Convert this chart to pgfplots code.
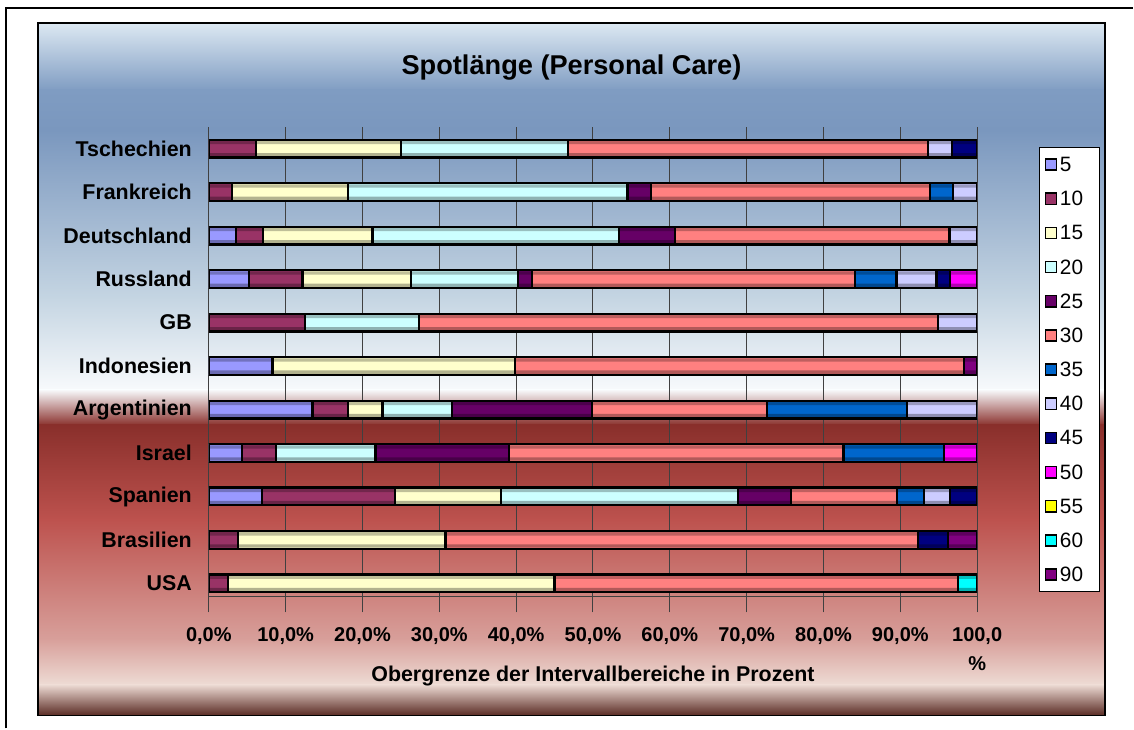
\documentclass[border=0pt]{standalone}
\usepackage{pgfplots}
\pgfplotsset{compat=1.18}
\usepackage{pgfplotstable}
\usepackage{fontspec}
\setmainfont{Liberation Sans}

% Excel series colours
\definecolor{c5}{HTML}{9999FF}
\definecolor{c10}{HTML}{993366}
\definecolor{c15}{HTML}{FFFFCC}
\definecolor{c20}{HTML}{CCFFFF}
\definecolor{c25}{HTML}{660066}
\definecolor{c30}{HTML}{FF8080}
\definecolor{c35}{HTML}{0066CC}
\definecolor{c40}{HTML}{CCCCFF}
\definecolor{c45}{HTML}{000080}
\definecolor{c50}{HTML}{FF00FF}
\definecolor{c55}{HTML}{FFFF00}
\definecolor{c60}{HTML}{00FFFF}
\definecolor{c90}{HTML}{800080}

% background stops
\definecolor{bgA}{HTML}{DCE8F2}
\definecolor{bgB}{HTML}{7F9CC2}
\definecolor{bgC}{HTML}{7A97BE}
\definecolor{bgD}{HTML}{C6D6E3}
\definecolor{bgE}{HTML}{F8FAFC}
\definecolor{bgF}{HTML}{892F2B}
\definecolor{bgG}{HTML}{BD524E}
\definecolor{bgH}{HTML}{D8A09B}
\definecolor{bgI}{HTML}{EEDCD5}
\definecolor{bgJ}{HTML}{5A2B24}

% share of each spot length per country, in percent (y: USA=0 ... Tschechien=10)
\pgfplotstableread{
y  s5   s10  s15  s20  s25  s30  s35  s40  s45  s50  s55  s60  s90
0  0    2.5  42.5 0    0    52.5 0    0    0    0    0    2.5  0
1  0    3.8  27.0 0    0    61.5 0    0    3.9  0    0    0    3.8
2  6.9  17.3 13.8 30.9 6.9  13.8 3.5  3.4  3.5  0    0    0    0
3  4.3  4.4  0    13.0 17.4 43.5 13.1 0    0    4.3  0    0    0
4  13.5 4.6  4.5  9.1  18.2 22.8 18.2 9.1  0    0    0    0    0
5  8.3  0    31.6 0    0    58.4 0    0    0    0    0    0    1.7
6  0    12.5 0    14.9 0    67.5 0    5.1  0    0    0    0    0
7  5.2  7.0  14.1 13.9 1.9  42.0 5.4  5.2  1.8  3.5  0    0    0
8  3.5  3.5  14.3 32.1 7.3  35.7 0    3.6  0    0    0    0    0
9  0    3.0  15.1 36.4 3.1  36.3 3.0  3.1  0    0    0    0    0
10 0    6.1  18.9 21.8 0    46.8 0    3.1  3.3  0    0    0    0
}\spots

\pgfplotsset{
  spotaxis/.style={
    at={(104.5pt,-298.5pt)}, anchor=south west,
    scale only axis, width=384.5pt, height=235pt,
    xmin=0, xmax=100, ymin=-0.3, ymax=10.5,
  },
}

\begin{document}
\begin{tikzpicture}
% background, in pixel units of the reference
\begin{scope}[x=0.5pt,y=-0.5pt]
\path (0,0) rectangle (1134,729);
\shade[top color=bgA,bottom color=bgB] (38,23) rectangle (1106,91);
\shade[top color=bgB,bottom color=bgC] (38,90) rectangle (1106,131);
\shade[top color=bgC,bottom color=bgD] (38,130) rectangle (1106,301);
\shade[top color=bgD,bottom color=bgE] (38,300) rectangle (1106,391);
\shade[top color=bgE,bottom color=bgF] (38,390) rectangle (1106,426);
\shade[top color=bgF,bottom color=bgG] (38,425) rectangle (1106,521);
\shade[top color=bgG,bottom color=bgH] (38,520) rectangle (1106,641);
\shade[top color=bgH,bottom color=bgI] (38,640) rectangle (1106,686);
\shade[top color=bgI,bottom color=bgJ] (38,685) rectangle (1106,716);
\end{scope}

\begin{axis}[
spotaxis,
xbar stacked, bar width=0.41,
ytick={0,...,10},
yticklabels={USA,Brasilien,Spanien,Israel,Argentinien,Indonesien,GB,Russland,Deutschland,Frankreich,Tschechien},
xtick={0,10,...,100},
xticklabels={{0,0\%},{10,0\%},{20,0\%},{30,0\%},{40,0\%},{50,0\%},{60,0\%},{70,0\%},{80,0\%},{90,0\%},{100,0\\\%}},
xticklabel style={align=center, font=\bfseries\fontsize{10}{14.5}\selectfont, yshift=-4pt},
yticklabel style={font=\bfseries\fontsize{10.7}{12}\selectfont, xshift=3pt},
axis lines*=left,
axis line style={black!75, line width=0.5pt},
xmajorgrids, grid style={black!75, line width=0.5pt},
tick align=outside, major tick length=8pt,
ytick style={draw=none},
xtick style={black!75, line width=0.5pt},
xlabel={Obergrenze der Intervallbereiche in Prozent},
xlabel style={font=\bfseries\fontsize{10.7}{12}\selectfont,
  at={(axis description cs:0.5,0)}, anchor=center, yshift=-40pt},
every axis plot/.append style={draw=black, line width=1.1pt},
legend image code/.code={\draw[#1, line width=0.8pt] (0pt,-2.8pt) rectangle (5.6pt,2.8pt);},
legend cell align=left,
legend style={at={(1.0806,0.957)}, anchor=north west, draw=black, line width=0.5pt,
  fill=white, font=\fontsize{10.4}{11}\selectfont, row sep=9.1pt,
  inner xsep=2.5pt, inner ysep=4.5pt,
  nodes={inner xsep=1.3pt, inner ysep=0.5pt, text width=16pt, text height=7pt, text depth=0pt}},
]
\addplot[fill=c5] table[x=s5,y=y]{\spots};
\addplot[fill=c10] table[x=s10,y=y]{\spots};
\addplot[fill=c15] table[x=s15,y=y]{\spots};
\addplot[fill=c20] table[x=s20,y=y]{\spots};
\addplot[fill=c25] table[x=s25,y=y]{\spots};
\addplot[fill=c30] table[x=s30,y=y]{\spots};
\addplot[fill=c35] table[x=s35,y=y]{\spots};
\addplot[fill=c40] table[x=s40,y=y]{\spots};
\addplot[fill=c45] table[x=s45,y=y]{\spots};
\addplot[fill=c50] table[x=s50,y=y]{\spots};
\addplot[fill=c55] table[x=s55,y=y]{\spots};
\addplot[fill=c60] table[x=s60,y=y]{\spots};
\addplot[fill=c90] table[x=s90,y=y]{\spots};
\legend{5,10,15,20,25,30,35,40,45,50,55,60,90}
\end{axis}

% darker bands along the top and bottom inside each bar (Excel's 3D look)
\begin{axis}[spotaxis, hide axis, xbar, bar width=0.075]
\addplot[bar shift=0.14, draw=none, fill=black, fill opacity=0.25]
  coordinates {(100,0)(100,1)(100,2)(100,3)(100,4)(100,5)(100,6)(100,7)(100,8)(100,9)(100,10)};
\addplot[bar shift=-0.14, draw=none, fill=black, fill opacity=0.3]
  coordinates {(100,0)(100,1)(100,2)(100,3)(100,4)(100,5)(100,6)(100,7)(100,8)(100,9)(100,10)};
\end{axis}

% frames and title
\begin{scope}[x=0.5pt,y=-0.5pt]
\draw[line width=0.6pt] (38,23) rectangle (1106,716);
\draw[line width=1pt] (6,729) -- (6,8) -- (1134,8);
\node[font=\bfseries\fontsize{13.6}{16}\selectfont] at (572,68) {Spotlänge (Personal Care)};
\end{scope}
\end{tikzpicture}
\end{document}
